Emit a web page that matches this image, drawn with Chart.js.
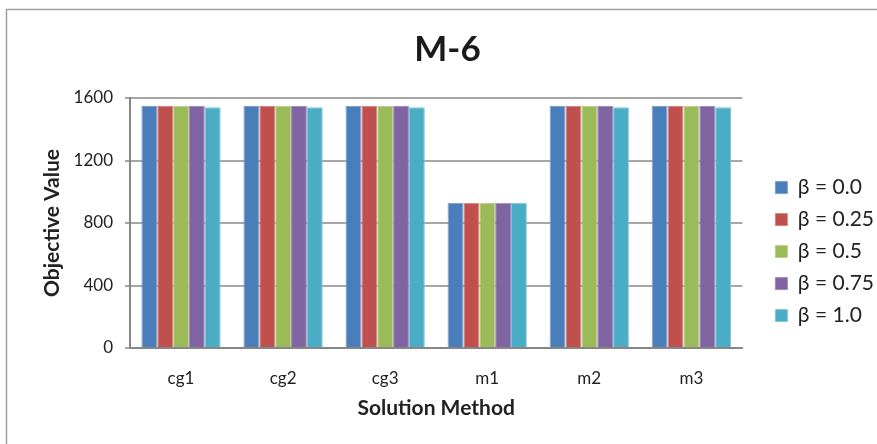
<!DOCTYPE html>
<html>
<head>
<meta charset="utf-8">
<script src="https://cdn.jsdelivr.net/npm/chart.js@4"></script>
<style>
  html, body { margin: 0; padding: 0; background: #fff; }
  #wrap { width: 877px; height: 444px; position: relative; }
</style>
</head>
<body>
<div id="wrap"><canvas id="chart"></canvas></div>
<script>
// data
const methods = ['cg1', 'cg2', 'cg3', 'm1', 'm2', 'm3'];
const betaLabels = ['β = 0.0', 'β = 0.25', 'β = 0.5', 'β = 0.75', 'β = 1.0'];
const beta00 = [1549, 1549, 1549, 929, 1549, 1549];
const beta025 = [1549, 1549, 1549, 929, 1549, 1549];
const beta05 = [1549, 1549, 1549, 929, 1549, 1549];
const beta075 = [1549, 1549, 1549, 929, 1549, 1549];
const beta10 = [1541, 1541, 1541, 929, 1541, 1541];
const yTicks = [0, 400, 800, 1200, 1600];

const colors = ['#4a7ebb', '#c0504d', '#9bbb59', '#8064a2', '#4bacc6'];
const edges = ['#7a9fd0', '#d98381', '#b9d08a', '#a18cc0', '#7fc6d8'];
const seriesData = [beta00, beta025, beta05, beta075, beta10];

const fontFam = "Lato, 'Open Sans', sans-serif";

// grey frame round the chart, like the exported picture
const framePlugin = {
    id: 'frame',
    afterLayout(chart) {
        // nudge the legend a little to the right, it has spare room there
        const lg = chart.legend;
        if (lg) { lg.left += 7; lg.right += 7; }
        // and the title a bit to the left
        const tb = chart.titleBlock;
        if (tb) { tb.left -= 11; tb.right -= 11; }
    },
    beforeDraw(chart) {
        const c = chart.ctx;
        c.save();
        c.fillStyle = '#fff';
        c.fillRect(0, 0, chart.width, chart.height);
        c.strokeStyle = '#a0a0a0';
        c.lineWidth = 1.5;
        c.strokeRect(6.5, 9.5, chart.width + 20, chart.height + 20);
        c.restore();
    }
};

new Chart(document.getElementById('chart'), {
    type: 'bar',
    data: {
        labels: methods,
        datasets: seriesData.map((d, i) => ({
            label: betaLabels[i],
            data: d,
            backgroundColor: colors[i],
            borderColor: edges[i],
            borderWidth: 1,
            barPercentage: 1,
            categoryPercentage: 0.777
        }))
    },
    options: {
        responsive: true,
        maintainAspectRatio: false,
        animation: false,
        layout: { padding: { left: 40, right: 0, top: 29, bottom: 23 } },
        plugins: {
            title: {
                display: true,
                text: 'M-6',
                color: '#1a1a1a',
                font: { family: fontFam, size: 35, weight: 'bold' },
                padding: { top: 0, bottom: 27 }
            },
            legend: {
                position: 'right',
                title: { display: true, text: ' ', font: { size: 1 }, padding: 26 },
                labels: {
                    color: '#222',
                    boxWidth: 12,
                    boxHeight: 12,
                    padding: 11,
                    font: { family: fontFam, size: 21 }
                }
            },
            tooltip: { enabled: false }
        },
        scales: {
            x: {
                afterFit(s) { s.height = 73; },
                grid: { display: false, drawTicks: false },
                border: { color: '#868686', width: 2 },
                ticks: { color: '#222', font: { family: fontFam, size: 17 }, padding: 20 },
                title: {
                    display: true,
                    text: 'Solution Method',
                    color: '#222',
                    font: { family: fontFam, size: 21, weight: 'bold' },
                    padding: { top: 0, bottom: 0 }
                }
            },
            y: {
                min: 0,
                max: 1600,
                afterFit(s) { s.width = 90; },
                afterBuildTicks(axis) { axis.ticks = yTicks.map(v => ({ value: v })); },
                grid: { color: '#a6a6a6', lineWidth: 2, tickLength: 5 },
                border: { color: '#868686', width: 2 },
                ticks: { color: '#222', font: { family: fontFam, size: 17 }, padding: 12, callback: v => String(v) },
                title: {
                    display: true,
                    text: 'Objective Value',
                    color: '#222',
                    font: { family: fontFam, size: 21, weight: 'bold' },
                    padding: { top: 0, bottom: 0 }
                }
            },
            // empty axis that only keeps the gap between plot and legend
            gap: {
                type: 'linear',
                position: 'right',
                afterFit(s) { s.width = 15; },
                grid: { display: false },
                border: { display: false },
                ticks: { display: false }
            }
        }
    },
    plugins: [framePlugin]
});
</script>
</body>
</html>
